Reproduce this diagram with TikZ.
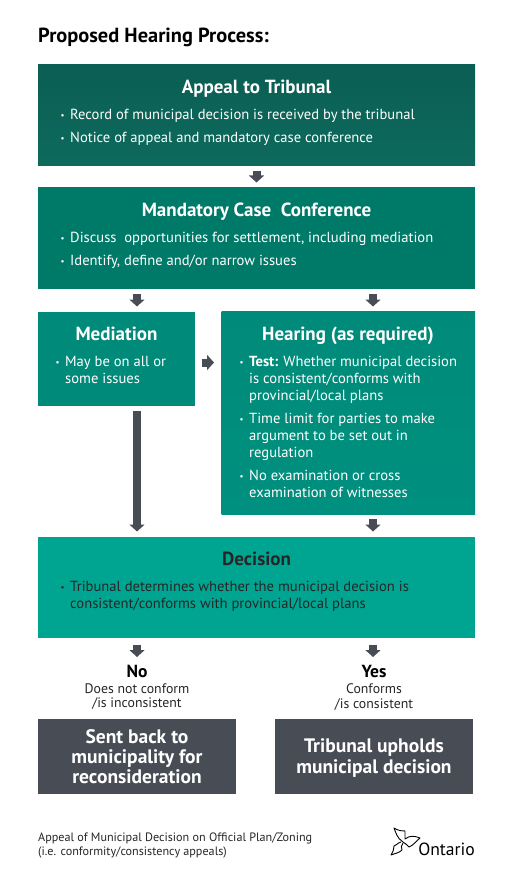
\documentclass[tikz,border=0pt]{standalone}
\usepackage{fontspec}
\setmainfont{PT Sans}
\usetikzlibrary{arrows.meta}
\definecolor{slate}{HTML}{484D55}
\definecolor{appealtop}{HTML}{0B5E53}
\definecolor{appealbot}{HTML}{0D6A5C}
\definecolor{confgreen}{HTML}{007A68}
\definecolor{medgreen}{HTML}{008A79}
\definecolor{heartop}{HTML}{008A79}
\definecolor{hearbot}{HTML}{00907F}
\definecolor{decgreen}{HTML}{00A592}
\newcommand{\bul}{\llap{\raisebox{1pt}{\scalebox{0.6}{\textbullet}}\hspace{5.5pt}}}
\begin{document}
\begin{tikzpicture}[x=1pt,y=-1pt,
  box/.style={inner sep=0pt,outer sep=0pt,anchor=north west},
  head/.style={text=white,font=\fontsize{19}{20}\selectfont\bfseries,inner sep=0pt,anchor=base},
  body/.style={text=white,font=\fontsize{14.6}{17}\selectfont,inner sep=0pt,anchor=north west,align=left},
  sub/.style={text=black!85,font=\fontsize{13.8}{14.5}\selectfont,inner sep=0pt,anchor=north,align=center},
  flow/.style={draw=slate,line width=8pt,-{Triangle[length=7pt,width=15pt]},shorten <=5pt,shorten >=5pt}]
\useasboundingbox (0,0) rectangle (511,877);

\node [anchor=west,inner sep=0pt,font=\fontsize{20.4}{22}\selectfont\bfseries] (ntitle) at (38,37.5) {Proposed Hearing Process:};

\begin{scope}
\node [box,minimum width=437pt,minimum height=101pt,top color=appealtop,bottom color=appealbot] (nap) at (38,65) {};
\node [box,minimum width=437pt,minimum height=101.5pt,fill=confgreen] (nco) at (38,187.5) {};
\node [box,minimum width=157pt,minimum height=94.5pt,fill=medgreen] (nme) at (38,311.5) {};
\node [box,minimum width=253.5pt,minimum height=202.5pt,top color=heartop,bottom color=hearbot] (nhe) at (221.5,311.5) {};
\node [box,minimum width=437pt,minimum height=101.5pt,fill=decgreen] (nde) at (38,536.5) {};
\node [box,minimum width=198pt,minimum height=75pt,fill=slate] (nse) at (38,719) {};
\node [box,minimum width=198pt,minimum height=75pt,fill=slate] (nup) at (275,719) {};
\end{scope}

\node [head] (tap) at (256.5,94) {Appeal to Tribunal};
\node [body] (bap1) at (70,109) {\bul Record of municipal decision is received by the tribunal};
\node [body] (bap2) at (70,132) {\bul Notice of appeal and mandatory case conference};

\node [head] (tco) at (256.5,216.7) {Mandatory Case\ \ Conference};
\node [body] (bco1) at (70,232) {\bul Discuss\ \ opportunities for settlement, including mediation};
\node [body] (bco2) at (70,255) {\bul Identify, define and/or narrow issues};

\node [head] (tme) at (116.5,340.7) {Mediation};
\node [body] (bme1) at (65,356) {\bul May be on all or\\some issues};

\node [head] (the) at (348,340.7) {Hearing (as required)};
\node [body] (bhe1) at (249,356) {\bul \textbf{Test:} Whether municipal decision\\is consistent/conforms with\\provincial/local plans};
\node [body] (bhe2) at (249,413) {\bul Time limit for parties to make\\argument to be set out in\\regulation};
\node [body] (bhe3) at (249,470) {\bul No examination or cross\\examination of witnesses};

\node [head,text=black!85] (tde) at (256.5,565.7) {Decision};
\node [body,text=black!85] (bde1) at (70,581) {\bul Tribunal determines whether the municipal decision is\\consistent/conforms with provincial/local plans};

\node [head,text=black,font=\fontsize{17.5}{20}\selectfont\bfseries] (tno) at (137,677.7) {No};
\node [sub] (bno) at (137,683.5) {Does not conform\\/is inconsistent};
\node [head,text=black,font=\fontsize{17.5}{20}\selectfont\bfseries] (tye) at (374,677.7) {Yes};
\node [sub] (bye) at (374,683.5) {Conforms\\/is consistent};

\node [head,anchor=center,align=center,font=\fontsize{19.5}{20}\selectfont\bfseries] (tse) at (137,756.5) {Sent back to\\municipality for\\reconsideration};
\node [head,anchor=center,align=center,font=\fontsize{19.5}{21}\selectfont\bfseries] (tup) at (374,758.5) {Tribunal upholds\\municipal decision};

\node [anchor=north west,inner sep=0pt,align=left,font=\fontsize{12.15}{14.5}\selectfont,text=black!85] (nnote) at (38,832.5) {Appeal of Municipal Decision on Official Plan/Zoning\\(i.e. conformity/consistency appeals)};

\coordinate (nleft) at (137,0);
\coordinate (nright) at (373,0);
\coordinate (nmid) at (0,362.5);
\coordinate (nnoend) at (137,662);
\coordinate (nyesend) at (373,662);

\begin{scope}
\draw [flow] (nap.south) -- (nco.north);
\draw [flow] (nleft |- nco.south) -- (nleft |- nme.north);
\draw [flow] (nright |- nco.south) -- (nright |- nhe.north);
\draw [flow,shorten <=7pt,shorten >=7.5pt] (nme.east |- nmid) -- (nhe.west |- nmid);
\draw [flow] (nleft |- nme.south) -- (nleft |- nde.north);
\draw [flow] (nright |- nhe.south) -- (nright |- nde.north);
\draw [flow,shorten <=7pt] (nleft |- nde.south) -- (nnoend);
\draw [flow,shorten <=7pt] (nright |- nde.south) -- (nyesend);
\end{scope}

% logo
\begin{scope}[line width=0.9pt,line join=round]
\draw (403,842) .. controls (397,838) and (396,833) .. (394,828) .. controls (399,831) and (402,831) .. (405,831)
 .. controls (404,834) and (406,836) .. (405,839) .. controls (410,835) and (415,836) .. (420,838)
 .. controls (416,841) and (414,845) .. (409,847) .. controls (407,845) and (405,843) .. (403,842);
\draw (401,842) .. controls (397,843) and (396,846) .. (394,846) .. controls (394,849) and (393,852) .. (391,855)
 .. controls (396,853) and (399,853) .. (402,850) .. controls (401,848) and (401,845) .. (403,843);
\end{scope}
\node [anchor=base east,inner sep=0pt,font=\fontsize{17.6}{20}\selectfont] (nont) at (475,855) {Ontario};
\end{tikzpicture}
\end{document}
